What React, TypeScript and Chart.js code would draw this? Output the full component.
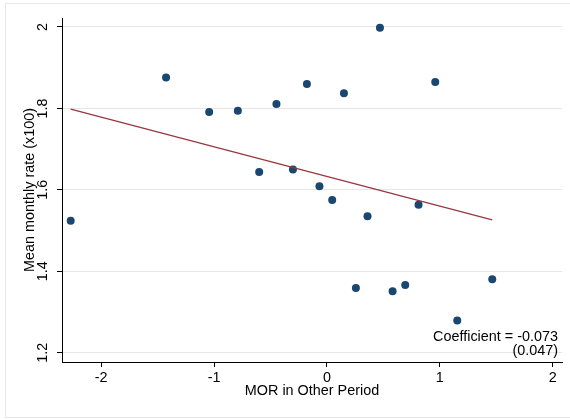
import React, { useEffect, useRef } from 'react';
import { Chart, registerables } from 'chart.js';

Chart.register(...registerables);

// ---- Data ----
const morValues = [-2.27, -1.425, -1.043, -0.789, -0.6, -0.447, -0.301, -0.177, -0.066, 0.047, 0.151, 0.257, 0.36, 0.47, 0.582, 0.694, 0.812, 0.96, 1.155, 1.465];
const rateValues = [1.524, 1.876, 1.791, 1.794, 1.644, 1.811, 1.65, 1.86, 1.609, 1.575, 1.837, 1.359, 1.535, 1.998, 1.351, 1.366, 1.563, 1.865, 1.279, 1.38];
const fitX = [-2.27, 1.465];
const fitY = [1.798, 1.526];
const xTickValues = [-2, -1, 0, 1, 2];
const yTickValues = [1.2, 1.4, 1.6, 1.8, 2];
const xTitle = 'MOR in Other Period';
const yTitle = 'Mean monthly rate (x100)';
const coefLines = ['Coefficient = -0.073', '(0.047)'];

const FONT = "'Liberation Sans', Arial, Helvetica, sans-serif";
const FS = 14.4;
const DOT = '#1a476f';
const FIT = '#98363d';

const coefPlugin = {
  id: 'coefText',
  afterDraw(chart: any) {
    const { ctx, chartArea } = chart;
    ctx.save();
    ctx.font = `${FS}px ${FONT}`;
    ctx.fillStyle = '#000';
    ctx.textAlign = 'right';
    ctx.textBaseline = 'middle';
    const x = chartArea.right - 4;
    ctx.fillText(coefLines[0], x, chartArea.bottom - 25);
    ctx.fillText(coefLines[1], x, chartArea.bottom - 11);
    ctx.restore();
  },
};

export default function App() {
  const canvasRef = useRef<HTMLCanvasElement | null>(null);

  useEffect(() => {
    if (!canvasRef.current) return;
    const points = morValues.map((x, i) => ({ x, y: rateValues[i] }));
    const fit = fitX.map((x, i) => ({ x, y: fitY[i] }));
    const chart = new Chart(canvasRef.current, {
      type: 'scatter',
      data: {
        datasets: [
          {
            type: 'line',
            data: fit,
            borderColor: FIT,
            borderWidth: 1.2,
            pointRadius: 0,
            fill: false,
          } as any,
          {
            type: 'scatter',
            data: points,
            backgroundColor: DOT,
            borderColor: DOT,
            borderWidth: 0,
            pointRadius: 4,
          },
        ],
      },
      options: {
        animation: false,
        responsive: false,
        maintainAspectRatio: false,
        layout: { padding: { top: 18, right: 8, left: 0, bottom: 0 } },
        plugins: { legend: { display: false }, tooltip: { enabled: false } },
        scales: {
          x: {
            type: 'linear',
            min: -2.347,
            max: 2.083,
            afterBuildTicks: (s: any) => {
              s.ticks = xTickValues.map((v) => ({ value: v }));
            },
            afterFit: (s: any) => {
              s.height = 57;
            },
            grid: { drawOnChartArea: false, tickLength: 5, tickColor: '#000', tickWidth: 1 },
            border: { color: '#000', width: 1 },
            ticks: {
              color: '#000',
              font: { family: FONT, size: FS },
              padding: 2,
              maxRotation: 0,
              callback: (v: any) => String(v),
            },
            title: {
              display: true,
              text: xTitle,
              color: '#000',
              font: { family: FONT, size: FS },
              padding: { top: 0, bottom: 19 },
            },
          },
          y: {
            type: 'linear',
            min: 1.177,
            max: 2.022,
            afterBuildTicks: (s: any) => {
              s.ticks = yTickValues.map((v) => ({ value: v }));
            },
            afterFit: (s: any) => {
              s.width = 62;
            },
            grid: { color: '#e6e6e6', lineWidth: 1, tickLength: 5, tickColor: '#000', tickWidth: 1 },
            border: { color: '#000', width: 1 },
            ticks: {
              color: '#000',
              font: { family: FONT, size: FS },
              padding: 4,
              minRotation: 90,
              maxRotation: 90,
              crossAlign: 'center',
              callback: (v: any) => String(v),
            },
            title: {
              display: true,
              text: yTitle,
              color: '#000',
              font: { family: FONT, size: FS },
              padding: { top: 21, bottom: 0 },
            },
          },
        },
      },
      plugins: [coefPlugin],
    });
    return () => chart.destroy();
  }, []);

  return (
    <div style={{ position: 'fixed', left: 0, top: 0, width: 570, height: 419, background: '#fff', overflow: 'hidden' }}>
      <div
        style={{
          position: 'absolute',
          left: 5,
          top: 3,
          width: 600,
          height: 415,
          boxSizing: 'border-box',
          borderLeft: '1px solid #e8e8e8',
          borderTop: '1px solid #e8e8e8',
          borderBottom: '1px solid #e8e8e8',
        }}
      />
      <canvas
        ref={canvasRef}
        width={570}
        height={419}
        style={{ position: 'absolute', left: 0, top: 0, width: 570, height: 419 }}
      />
    </div>
  );
}
